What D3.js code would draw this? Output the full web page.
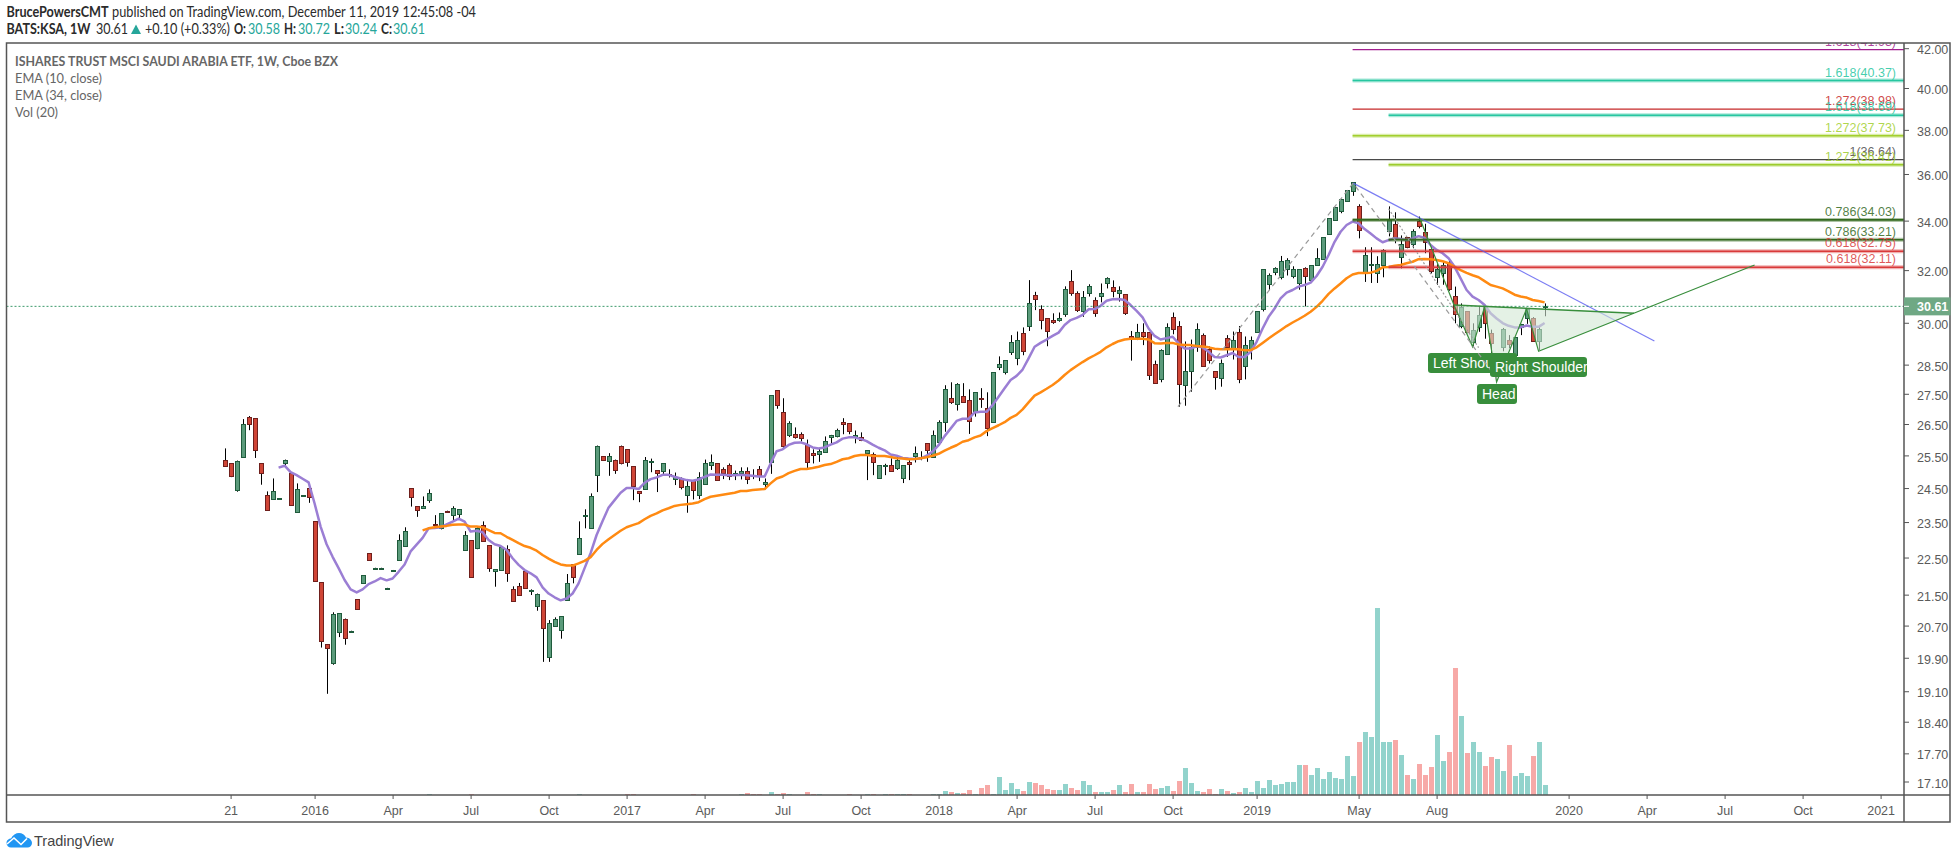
<!DOCTYPE html>
<html>
<head>
<meta charset="utf-8">
<title>BATS:KSA, 1W</title>
<script src="https://cdn.jsdelivr.net/npm/d3@7/dist/d3.min.js"></script>
<style>
  html, body { margin: 0; padding: 0; background: #fff; }
  svg { display: block; }
  .ui { font-family: "Liberation Sans", Arial, sans-serif; }
  .head { font-family: Lato, "Noto Sans", sans-serif; }
</style>
</head>
<body>
<svg id="chart" width="1956" height="859"></svg>
<script>
// Weekly KSA candles, one row per ten bars.
const opens = [
  25.37,25.25,24.43,25.44,26.72,26.69,25.25,24.28,24.16,24.19,
  25.27,24.95,23.78,24.28,24.49,23.52,21.83,20.23,19.78,20.53,
  20.88,20.56,21.38,21.80,22.62,22.21,22.21,21.67,22.15,22.42,
  22.81,24.49,23.96,23.90,24.13,23.43,23.32,23.83,23.70,23.72,
  22.70,22.98,22.77,23.41,22.84,22.14,22.15,22.73,21.64,21.72,
  22.12,21.60,21.20,21.35,19.91,20.68,20.58,21.35,22.31,22.59,
  23.67,23.32,24.89,25.47,25.34,25.37,25.81,25.69,25.16,24.40,
  24.46,25.31,25.04,25.01,24.92,24.76,24.76,24.28,24.73,24.28,
  24.61,25.19,25.25,25.07,25.19,24.92,24.95,25.01,24.90,25.07,
  24.61,25.28,27.62,26.88,26.13,26.19,26.19,25.84,25.57,25.53,
  25.60,26.07,26.10,26.55,26.52,26.07,26.07,25.57,25.53,24.79,
  25.18,25.19,25.10,24.79,25.31,25.47,25.44,25.88,25.44,25.91,
  26.55,27.35,27.15,27.41,27.28,26.88,27.35,27.01,26.56,28.43,
  28.23,28.96,28.72,29.61,29.89,31.03,30.50,30.16,30.09,30.11,
  30.31,31.56,31.10,30.42,31.10,30.84,30.99,31.48,31.33,31.10,
  31.06,29.50,29.47,29.65,29.65,28.51,27.99,28.86,30.20,29.87,
  27.79,28.27,29.11,29.57,29.04,28.27,28.03,29.43,29.04,29.68,
  28.44,29.04,29.68,30.50,31.45,31.91,31.72,32.03,31.76,31.48,
  32.07,31.60,32.19,32.44,33.43,34.02,34.40,34.84,35.24,34.60,
  31.93,32.19,31.87,32.19,33.56,33.87,32.53,33.31,33.03,33.98,
  33.51,32.83,31.72,31.87,32.31,30.99,29.90,30.42,29.29,29.83,
  30.57,29.61,28.24,29.13,29.37,28.84,29.85,30.17,30.17,29.33,
  30.58
];
const highs = [
  25.72,25.25,25.34,26.66,26.76,26.69,25.25,24.40,24.79,24.20,
  25.37,24.95,24.64,24.29,24.62,23.52,21.83,20.23,21.04,21.01,
  20.88,20.57,21.38,22.02,22.62,22.22,22.22,21.68,22.16,23.15,
  23.35,24.49,23.96,24.25,24.46,23.70,23.75,23.83,23.96,23.87,
  23.24,22.98,23.35,23.52,22.84,22.18,22.78,22.84,21.72,21.81,
  22.15,21.64,21.53,21.35,20.84,20.91,20.94,22.05,22.31,23.52,
  23.87,24.34,25.81,25.47,25.57,25.37,25.81,25.69,25.16,24.40,
  25.45,25.40,25.04,25.25,25.07,24.97,24.82,24.74,24.73,24.98,
  25.37,25.53,25.25,25.13,25.25,25.03,25.13,25.13,25.07,25.17,
  24.79,27.45,27.62,27.35,26.59,26.39,26.23,26.00,25.69,25.72,
  26.10,26.15,26.35,26.69,26.52,26.29,26.23,25.66,25.59,25.19,
  25.24,25.41,25.47,25.19,25.35,25.78,25.63,25.88,26.29,26.62,
  27.79,27.89,27.86,27.86,27.65,27.55,27.69,27.55,28.23,28.79,
  28.65,29.55,29.68,29.83,31.61,31.16,30.65,30.16,30.35,30.38,
  31.37,32.00,31.18,31.19,31.45,30.95,31.48,31.72,31.60,31.37,
  31.06,29.70,29.96,29.98,29.65,28.64,29.04,29.98,30.38,30.06,
  29.32,29.39,29.98,29.61,29.14,28.27,28.68,29.55,29.68,29.88,
  29.50,29.50,30.42,32.03,31.87,32.11,32.56,32.47,32.15,32.03,
  32.11,32.19,32.87,33.31,34.10,34.56,34.90,35.29,35.63,34.69,
  32.91,32.91,32.55,32.83,34.60,34.35,33.39,33.31,33.64,34.17,
  33.87,32.91,32.23,32.35,32.43,31.36,30.72,30.42,29.98,30.59,
  30.61,29.75,28.80,29.81,29.55,29.47,29.96,30.55,30.21,29.91,
  30.72
];
const lows = [
  25.16,24.83,24.39,25.44,26.30,25.42,24.60,23.84,24.16,24.18,
  25.18,23.99,23.78,24.27,24.06,21.84,20.15,19.04,19.73,20.41,
  20.22,20.55,21.12,21.80,22.42,22.20,22.20,21.66,22.14,22.42,
  22.81,23.95,23.65,23.90,24.06,23.41,23.29,23.81,23.54,23.61,
  22.70,21.96,22.73,22.95,22.11,21.71,22.15,21.84,21.33,21.48,
  21.67,21.49,21.08,19.80,19.80,20.68,20.37,21.35,21.80,22.59,
  23.32,23.32,24.38,25.33,24.87,24.93,25.22,25.15,24.14,24.08,
  24.46,24.98,24.38,24.87,24.82,24.59,24.46,23.77,24.16,24.17,
  24.61,25.05,24.73,24.77,24.74,24.74,24.76,24.62,24.77,24.71,
  24.46,24.93,27.00,25.69,26.08,26.03,25.94,25.08,25.25,25.30,
  25.60,25.88,26.07,26.17,26.17,25.88,25.95,24.74,24.89,24.79,
  24.89,25.01,25.05,24.65,24.74,25.28,25.35,25.30,25.44,25.84,
  26.25,27.16,26.94,27.21,26.18,26.74,27.03,26.11,26.56,28.31,
  28.16,28.84,28.48,28.83,29.70,30.47,29.76,29.15,29.96,30.04,
  30.22,31.01,30.40,30.22,30.98,30.22,30.76,31.29,30.95,30.79,
  30.29,28.64,29.37,29.19,27.97,27.86,27.89,28.86,29.58,27.07,
  27.10,27.57,28.95,28.43,28.54,27.64,27.74,28.77,28.68,27.86,
  27.99,28.68,29.68,30.42,31.23,31.80,31.64,31.79,31.68,31.24,
  30.61,31.60,32.19,32.40,33.43,34.02,34.31,34.84,35.05,33.27,
  31.54,31.50,31.50,31.72,33.35,33.07,32.07,32.87,32.87,33.68,
  32.67,31.87,31.43,31.43,31.20,29.98,29.80,29.61,29.13,29.67,
  29.42,28.66,28.10,28.97,29.08,28.84,29.55,29.96,29.31,29.01,
  30.24
];
const closes = [
  25.16,24.87,25.34,26.49,26.49,25.66,24.95,23.84,24.40,24.19,
  25.37,23.99,24.46,24.28,24.22,21.87,20.31,20.13,20.99,21.01,
  20.38,20.56,21.12,22.02,22.42,22.21,22.21,21.67,22.15,22.98,
  23.23,24.22,23.84,23.96,24.34,23.41,23.75,23.81,23.90,23.87,
  23.12,21.96,23.32,22.95,22.21,22.18,22.78,22.07,21.33,21.48,
  21.67,21.61,21.53,20.63,20.76,20.88,20.94,21.80,21.96,23.04,
  23.70,24.25,25.81,25.37,25.47,25.04,25.25,25.31,24.55,24.34,
  25.37,25.34,24.95,25.25,24.89,24.82,24.52,24.55,24.43,24.82,
  25.25,25.31,24.73,24.95,24.85,24.95,25.01,24.76,24.88,24.85,
  24.67,27.45,27.11,25.81,26.52,26.08,26.05,25.31,25.51,25.63,
  25.94,26.13,26.32,26.49,26.29,26.13,26.00,25.66,25.31,25.19,
  25.19,25.01,25.37,25.19,25.22,25.57,25.45,25.66,26.16,26.55,
  27.65,27.21,27.82,27.21,26.59,27.55,27.31,26.37,28.23,28.51,
  28.65,29.30,29.36,28.99,30.72,30.90,30.09,29.70,30.04,30.16,
  31.26,31.10,30.46,30.95,31.37,30.35,31.10,31.68,31.18,31.22,
  30.38,29.42,29.68,29.50,28.13,27.86,29.00,29.83,29.76,27.82,
  28.27,29.14,29.79,28.44,28.65,28.06,28.54,29.11,29.36,27.99,
  29.21,29.36,30.42,32.03,31.79,32.07,32.35,32.39,32.03,32.03,
  31.76,32.19,32.47,33.31,34.10,34.56,34.90,35.29,35.63,33.60,
  32.59,32.23,32.23,32.79,34.06,33.23,33.03,32.93,33.56,33.77,
  33.11,31.95,32.03,32.19,31.26,30.31,30.57,29.68,29.72,30.27,
  30.01,29.26,28.73,29.77,29.23,29.47,29.96,30.51,29.33,29.79,
  30.61
];
// Weekly volume, in relative units.
const volumes = [
  0,0,0,0,0,0,0,0,0,0, 0,0,0,0,0,0,0,0,0,0,
  0,0,0,0,0,0,0,0,0,0, 0,0,0,0,1,0,0,0,0,0,
  0,1,0,0,0,0,0,0,0,0, 0,0,0,0,0,0,0,0,0,1,
  0,0,0,0,0,0,0,1,1,0, 0,0,0,0,0,0,0,0,1,0,
  0,0,0,0,0,0,1,2,1,1, 0,3,1,2,1,0,0,3,1,1,
  0,0,0,0,1,0,0,1,1,0, 1,1,1,1,1,0,0,0,1,1,
  4,3,2,2,5,1,7,10,1,18, 5,12,6,4,13,12,10,6,5,5,
  11,7,5,14,10,3,3,3,5,10, 3,11,3,3,11,6,7,9,4,14,
  27,12,4,3,6,1,6,4,2,3, 7,3,14,7,15,10,11,13,13,30,
  30,20,27,16,23,17,16,39,19,53, 63,58,187,53,53,55,40,20,16,31,
  20,28,60,34,43,127,79,42,53,43, 29,38,36,24,50,19,22,19,39,53,
  10
];
// EMA (10, close) starts at bar 9, EMA (34, close) at bar 33.
const ema10Start = 9;
const ema10 = [
  25.12,25.18,24.98,24.89,24.78,24.67,24.04,23.37,22.87,22.52,
  22.21,21.89,21.64,21.56,21.64,21.78,21.85,21.94,21.88,21.93,
  22.11,22.31,22.67,22.86,23.05,23.32,23.33,23.35,23.43,23.51,
  23.60,23.51,23.23,23.25,23.21,22.99,22.87,22.82,22.71,22.48,
  22.30,22.16,22.07,21.96,21.69,21.53,21.43,21.35,21.40,21.53,
  21.80,22.21,22.62,23.13,23.53,23.92,24.14,24.36,24.50,24.50,
  24.47,24.66,24.77,24.82,24.90,24.90,24.84,24.79,24.74,24.72,
  24.76,24.84,24.91,24.90,24.90,24.89,24.89,24.90,24.89,24.87,
  24.85,24.85,25.25,25.63,25.69,25.83,25.90,25.91,25.85,25.75,
  25.72,25.75,25.84,25.91,26.03,26.07,26.07,26.02,25.95,25.84,
  25.74,25.66,25.53,25.49,25.42,25.40,25.39,25.40,25.49,25.62,
  25.82,26.11,26.35,26.60,26.67,26.67,26.88,26.90,26.90,27.12,
  27.40,27.69,27.97,28.11,28.33,28.72,29.13,29.27,29.39,29.52,
  29.64,29.92,30.10,30.18,30.29,30.50,30.51,30.63,30.82,30.88,
  30.89,30.85,30.66,30.44,30.20,29.79,29.52,29.39,29.44,29.49,
  29.25,29.07,29.07,29.15,29.11,28.95,28.77,28.75,28.83,28.91,
  28.77,28.77,28.95,29.31,29.79,30.22,30.53,30.91,31.13,31.23,
  31.36,31.42,31.51,31.77,32.13,32.60,33.13,33.54,33.82,33.96,
  33.89,33.65,33.47,33.27,33.11,33.20,33.27,33.24,33.20,33.27,
  33.36,33.29,33.00,32.80,32.67,32.47,32.13,31.68,31.23,30.98,
  30.85,30.66,30.35,30.16,29.99,29.89,29.83,29.83,29.90,29.85,
  29.85,29.99
];
const ema34Start = 33;
const ema34 = [
  23.26,23.32,23.35,23.37,23.39,23.42,23.43,23.43,23.37,23.37,
  23.35,23.27,23.19,23.18,23.08,22.99,22.90,22.82,22.77,22.69,
  22.57,22.47,22.38,22.31,22.28,22.28,22.34,22.41,22.51,22.71,
  22.88,23.01,23.13,23.25,23.35,23.41,23.47,23.58,23.68,23.75,
  23.84,23.90,23.97,24.00,24.02,24.04,24.08,24.17,24.24,24.27,
  24.30,24.33,24.36,24.41,24.41,24.44,24.46,24.47,24.64,24.79,
  24.85,24.95,25.02,25.08,25.08,25.11,25.15,25.20,25.23,25.30,
  25.38,25.41,25.48,25.51,25.51,25.49,25.48,25.48,25.45,25.41,
  25.40,25.38,25.39,25.41,25.44,25.49,25.55,25.65,25.74,25.82,
  25.93,25.98,26.07,26.13,26.27,26.37,26.46,26.56,26.70,26.80,
  26.98,27.21,27.44,27.55,27.67,27.80,27.95,28.14,28.31,28.45,
  28.59,28.72,28.83,28.95,29.11,29.23,29.33,29.39,29.42,29.42,
  29.42,29.39,29.26,29.25,29.27,29.27,29.21,29.19,29.19,29.16,
  29.14,29.11,29.06,29.04,29.04,29.05,29.04,29.01,29.01,29.11,
  29.27,29.43,29.58,29.73,29.88,30.01,30.13,30.26,30.41,30.59,
  30.82,31.08,31.29,31.48,31.68,31.83,31.89,31.89,31.90,31.97,
  32.11,32.12,32.17,32.20,32.27,32.33,32.43,32.44,32.43,32.40,
  32.35,32.27,32.13,32.00,31.89,31.80,31.72,31.57,31.42,31.36,
  31.29,31.18,31.05,30.98,30.94,30.85,30.81,30.76
];

// Axis labels.
const priceTicks = [42,40,38,36,34,32,30,28.5,27.5,26.5,25.5,24.5,23.5,22.5,21.5,20.7,19.9,19.1,18.4,17.7,17.1];
const timeTickBars = [1,15,28,41,54,67,80,93,106,119,132,145,158,172,189,202,224,237,250,263,276];
const timeTickLabels = ["21","2016","Apr","Jul","Oct","2017","Apr","Jul","Oct","2018","Apr","Jul","Oct","2019","May","Aug","2020","Apr","Jul","Oct","2021"];

// Fibonacci extension levels.
const fibPrices = [41.93,40.37,38.98,38.69,37.73,36.64,36.41,34.03,33.21,32.75,32.11];
const fibRatios = ["1.618","1.618","1.272","1.618","1.272","1","1.272","0.786","0.786","0.618","0.618"];
const fibStartBars = [188,188,188,194,188,188,194,188,194,188,194];
const lastClose = 30.61;

// Drawing tools, as [bar, price] anchors.
const headShoulders = [[199.2,34.10],[204.9,30.66],[208,29.13],[210,30.59],[212,27.90],[217,30.52],[219,28.97],[255,32.20]];
const neckline = [[204.9,30.66],[234.9,30.35]];
const patternFill = [[204.9,30.66],[208,29.13],[210,30.59],[212,27.90],[217,30.52],[219,28.97],[234.9,30.35]];
const downTrend = [[188.1,35.60],[238.3,29.34]];
const fibLegA = [[158.9,27.07],[188.1,35.60],[212,28.03]];
const fibLegB = [[194,34.5],[209,29.1]];

// Scales.
const x = d3.scaleLinear().domain([0, 276]).range([224.6, 1880.6]);
const y = d3.scaleLog().domain([17.1, 42]).range([781.5, 48.2]);
const yVol = d3.scaleLinear().domain([0, 187]).range([795, 608]);

const frame = { left: 6.5, top: 43, right: 1950, bottom: 822, axisX: 1904, paneBottom: 795 };
const upFill = "#5b9b7b", upEdge = "#1f5b3c", downFill = "#cf4536", downEdge = "#6f1f1c";
const fibColors = ["#a21f8e","#26c6a0","#c62828","#26c6a0","#a2cf2e","#4a4a4a","#9ccc2c","#33691e","#33691e","#d93a3a","#d93a3a"];
const fibHeavy = [false,true,false,true,true,false,true,true,true,true,true];
const patternGreen = "#388e3c";

const svg = d3.select("#chart");
svg.append("defs").append("clipPath").attr("id", "pane").append("rect")
  .attr("x", frame.left).attr("y", frame.top)
  .attr("width", frame.axisX - frame.left).attr("height", frame.paneBottom - frame.top);

const pane = svg.append("g").attr("clip-path", "url(#pane)");
const bars = d3.range(opens.length);
const snap = v => Math.round(v);

// Volume columns sit on the pane floor.
pane.append("g").selectAll("rect").data(bars.filter(i => volumes[i] > 0)).join("rect")
  .attr("x", i => snap(x(i)) - 2)
  .attr("width", 5)
  .attr("y", i => yVol(volumes[i]))
  .attr("height", i => yVol(0) - yVol(volumes[i]))
  .attr("fill", i => closes[i] >= opens[i] ? "#92d3cc" : "#f7a9a7");

// Wicks, then candle bodies; a body is never thinner than one pixel so dojis stay visible.
pane.append("g").selectAll("line").data(bars).join("line")
  .attr("x1", i => snap(x(i)) + 0.5).attr("x2", i => snap(x(i)) + 0.5)
  .attr("y1", i => y(highs[i])).attr("y2", i => y(lows[i]))
  .attr("stroke", "#000").attr("stroke-width", 1);

pane.append("g").selectAll("rect").data(bars).join("rect")
  .attr("x", i => snap(x(i)) - 1.5)
  .attr("width", 4)
  .attr("y", i => snap(y(Math.max(opens[i], closes[i]))) + 0.5)
  .attr("height", i => Math.max(1, snap(y(Math.min(opens[i], closes[i]))) - snap(y(Math.max(opens[i], closes[i])))))
  .attr("fill", i => closes[i] >= opens[i] ? upFill : downFill)
  .attr("stroke", i => closes[i] >= opens[i] ? upEdge : downEdge)
  .attr("stroke-width", 1);

// Moving averages.
const emaLine = start => d3.line().x((d, k) => x(start + k)).y(d => y(d));
pane.append("path").attr("d", emaLine(ema10Start)(ema10))
  .attr("fill", "none").attr("stroke", "#9b7ed4").attr("stroke-width", 2.5).attr("stroke-linejoin", "round");
pane.append("path").attr("d", emaLine(ema34Start)(ema34))
  .attr("fill", "none").attr("stroke", "#ff8a12").attr("stroke-width", 2.5).attr("stroke-linejoin", "round");

// Last close line.
pane.append("line")
  .attr("x1", frame.left).attr("x2", frame.axisX)
  .attr("y1", y(lastClose)).attr("y2", y(lastClose))
  .attr("stroke", "#3b9a6c").attr("stroke-width", 1).attr("stroke-dasharray", "2 2");

// Fibonacci levels and their captions.
const fibs = pane.append("g");
fibPrices.forEach((p, k) => {
  const x0 = x(fibStartBars[k]), yy = y(p);
  if (fibHeavy[k]) {
    fibs.append("line").attr("x1", x0).attr("x2", frame.axisX).attr("y1", yy).attr("y2", yy)
      .attr("stroke", fibColors[k]).attr("stroke-width", 4).attr("stroke-opacity", 0.4);
  }
  fibs.append("line").attr("x1", x0).attr("x2", frame.axisX).attr("y1", yy).attr("y2", yy)
    .attr("stroke", fibColors[k]).attr("stroke-width", fibHeavy[k] ? 1.6 : 1.2);
  fibs.append("text").attr("class", "ui")
    .attr("x", 1896).attr("y", yy - 4).attr("text-anchor", "end")
    .attr("font-size", 12.5).attr("fill", fibColors[k]).attr("fill-opacity", 0.85)
    .text(`${fibRatios[k]}(${p.toFixed(2)})`);
});

// Trend and pattern drawings; the pale wash veils the candles beneath it.
const anchorLine = d3.line().x(d => x(d[0])).y(d => y(d[1]));
pane.append("path").attr("d", anchorLine(downTrend)).attr("fill", "none")
  .attr("stroke", "#5a5cf0").attr("stroke-opacity", 0.8).attr("stroke-width", 1.2);
pane.append("path").attr("d", anchorLine(patternFill) + "Z")
  .attr("fill", "#d2e8d4").attr("fill-opacity", 0.6);
pane.append("path").attr("d", anchorLine(headShoulders)).attr("fill", "none")
  .attr("stroke", patternGreen).attr("stroke-width", 1.2);
pane.append("path").attr("d", anchorLine(neckline)).attr("fill", "none")
  .attr("stroke", patternGreen).attr("stroke-width", 1.5);

// Pattern labels.
const patternLabels = ["Left Shoulder", "Right Shoulder", "Head"];
const labelBoxes = pane.append("g");
const labelGeometry = [
  { x: 1428, w: 89, y: 353, tx: 1433, ty: 368 },
  { x: 1490, w: 97, y: 357, tx: 1495, ty: 372 },
  { x: 1477, w: 40, y: 384, tx: 1482, ty: 399 }
];
function drawLabel(k) {
  const g = labelGeometry[k];
  labelBoxes.append("rect").attr("x", g.x).attr("y", g.y).attr("width", g.w).attr("height", 20)
    .attr("rx", 3).attr("fill", patternGreen);
  labelBoxes.append("text").attr("class", "ui").attr("x", g.tx).attr("y", g.ty)
    .attr("font-size", 14).attr("fill", "#fff").text(patternLabels[k]);
}
drawLabel(0);
labelBoxes.append("path").attr("d", anchorLine(fibLegA)).attr("fill", "none")
  .attr("stroke", "#9a9a9a").attr("stroke-width", 1.2).attr("stroke-dasharray", "5 4");
labelBoxes.append("path").attr("d", anchorLine(fibLegB)).attr("fill", "none")
  .attr("stroke", "#9a9a9a").attr("stroke-width", 1.2).attr("stroke-dasharray", "2 2");
drawLabel(1);
drawLabel(2);

// Frame and axes.
const frameColor = "#555";
svg.append("rect").attr("x", frame.left).attr("y", frame.top)
  .attr("width", frame.right - frame.left).attr("height", frame.bottom - frame.top)
  .attr("fill", "none").attr("stroke", frameColor).attr("stroke-width", 1.5);
svg.append("line").attr("x1", frame.axisX).attr("x2", frame.axisX).attr("y1", frame.top).attr("y2", frame.bottom)
  .attr("stroke", frameColor).attr("stroke-width", 1.5);
svg.append("line").attr("x1", frame.left).attr("x2", frame.right).attr("y1", frame.paneBottom).attr("y2", frame.paneBottom)
  .attr("stroke", frameColor).attr("stroke-width", 1.5);

const priceAxis = svg.append("g").attr("class", "ui").attr("transform", `translate(${frame.axisX},0)`)
  .call(d3.axisRight(y).tickValues(priceTicks).tickFormat(d3.format(".2f")).tickSize(5).tickPadding(8));
const timeAxis = svg.append("g").attr("class", "ui").attr("transform", `translate(0,${frame.paneBottom})`)
  .call(d3.axisBottom(x).tickValues(timeTickBars)
    .tickFormat(b => timeTickLabels[timeTickBars.indexOf(b)]).tickSize(4).tickPadding(7));
[priceAxis, timeAxis].forEach(a => {
  a.attr("font-family", null).attr("font-size", null);
  a.select(".domain").remove();
  a.selectAll("line").attr("stroke", frameColor);
  a.selectAll("text").attr("fill", "#5a5a5a").style("font-size", "12.5px")
    .style("font-family", "'Liberation Sans', Arial, sans-serif");
});
priceAxis.selectAll("text").attr("dy", "0.45em");

// Last price tag.
svg.append("rect").attr("x", frame.axisX).attr("y", y(lastClose) - 9)
  .attr("width", frame.right - frame.axisX + 0.5).attr("height", 18).attr("fill", "#6fa884");
svg.append("line").attr("x1", frame.axisX).attr("x2", frame.axisX + 5)
  .attr("y1", y(lastClose)).attr("y2", y(lastClose)).attr("stroke", "#fff");
svg.append("text").attr("class", "ui").attr("x", frame.axisX + 13).attr("y", y(lastClose) + 4.5)
  .attr("font-size", 12.5).attr("font-weight", 700).attr("fill", "#fff").text(lastClose.toFixed(2));

// Pane legend.
const legendRows = ["ISHARES TRUST MSCI SAUDI ARABIA ETF, 1W, Cboe BZX", "EMA (10, close)", "EMA (34, close)", "Vol (20)"];
const legendWidths = [323, 87, 87, 43];
svg.append("g").attr("class", "head").selectAll("text").data(legendRows).join("text")
  .attr("x", 15).attr("y", (d, k) => 65.5 + k * 17)
  .attr("font-size", 14).attr("font-weight", (d, k) => k === 0 ? 700 : 400)
  .attr("textLength", (d, k) => legendWidths[k]).attr("lengthAdjust", "spacingAndGlyphs")
  .attr("fill", "#666").text(d => d);

// Publication header; each run is fitted to its slot in the two lines.
const headerRuns = [
  { t: "BrucePowersCMT", x: 6.5, y: 17, len: 102, w: 700, c: "#2b2b2b" },
  { t: "published on TradingView.com, December 11, 2019 12:45:08 -04", x: 112, y: 17, len: 364, w: 400, c: "#2b2b2b" },
  { t: "BATS:KSA, 1W", x: 6.5, y: 34, len: 84, w: 700, c: "#2b2b2b" },
  { t: "30.61", x: 96, y: 34, len: 32, w: 400, c: "#2b2b2b" },
  { t: "+0.10 (+0.33%)", x: 145, y: 34, len: 85, w: 400, c: "#2b2b2b" },
  { t: "O:", x: 234, y: 34, len: 12, w: 700, c: "#2b2b2b" },
  { t: "30.58", x: 248, y: 34, len: 32, w: 400, c: "#26a69a" },
  { t: "H:", x: 284, y: 34, len: 12, w: 700, c: "#2b2b2b" },
  { t: "30.72", x: 298, y: 34, len: 32, w: 400, c: "#26a69a" },
  { t: "L:", x: 334, y: 34, len: 10, w: 700, c: "#2b2b2b" },
  { t: "30.24", x: 345, y: 34, len: 32, w: 400, c: "#26a69a" },
  { t: "C:", x: 381, y: 34, len: 11, w: 700, c: "#2b2b2b" },
  { t: "30.61", x: 393, y: 34, len: 32, w: 400, c: "#26a69a" }
];
svg.append("g").attr("class", "head").selectAll("text").data(headerRuns).join("text")
  .attr("x", d => d.x).attr("y", d => d.y).attr("font-size", 14.5)
  .attr("textLength", d => d.len).attr("lengthAdjust", "spacingAndGlyphs")
  .attr("font-weight", d => d.w).attr("fill", d => d.c).text(d => d.t);
svg.append("path").attr("d", "M131 34 L136 24.5 L141 34 Z").attr("fill", "#26a69a");

// TradingView mark and wordmark.
svg.append("path")
  .attr("d", "M6.5 843 C6.5 840 9 838.5 11 838.5 C12.5 835 16 833 19 833 C22 833 25 835 26 837.5 C29.5 837.5 32 840.5 32 843 C32 845.5 30 847.5 27.5 847.5 L11 847.5 C8.5 847.5 6.5 845.5 6.5 843 Z")
  .attr("fill", "#2196f3");
svg.append("path").attr("d", "M7 844 L14 838 L21 844.5 L27 838.5").attr("fill", "none")
  .attr("stroke", "#fff").attr("stroke-width", 1.6);
svg.append("text").attr("class", "ui").attr("x", 34).attr("y", 846)
  .attr("font-size", 14.5).attr("fill", "#444").text("TradingView");
</script>
</body>
</html>
